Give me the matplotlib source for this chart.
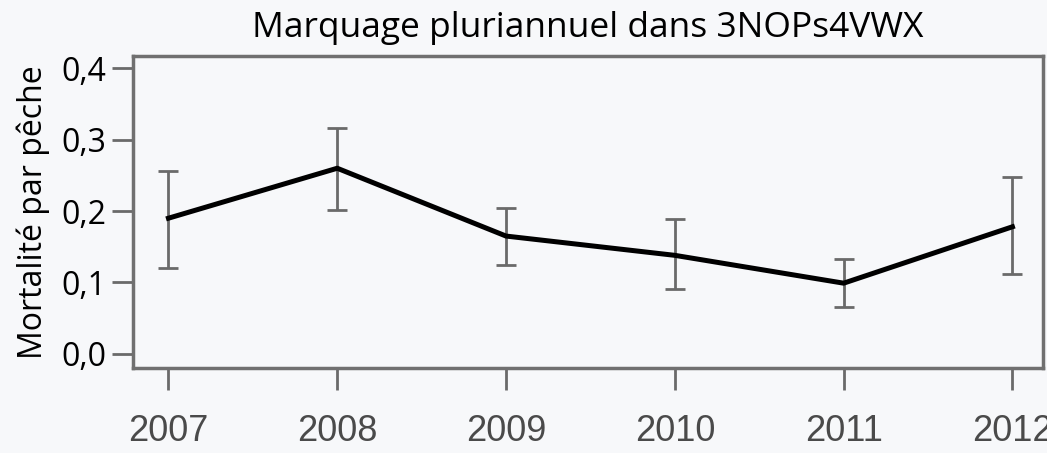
import matplotlib.pyplot as plt

# donnees
annees = [2007, 2008, 2009, 2010, 2011, 2012]
mortalite = [0.190, 0.260, 0.165, 0.138, 0.099, 0.178]
borne_haute = [0.256, 0.316, 0.204, 0.189, 0.133, 0.248]
borne_basse = [0.120, 0.201, 0.124, 0.091, 0.066, 0.112]
yticks = [0.0, 0.1, 0.2, 0.3, 0.4]
ytick_labels = ['0,0', '0,1', '0,2', '0,3', '0,4']

fond = '#f7f8fa'
fig = plt.figure(figsize=(10.47, 4.53), dpi=100, facecolor=fond)
ax = fig.add_axes([0.127, 0.188, 0.869, 0.688], facecolor=fond)

err_bas = [m - b for m, b in zip(mortalite, borne_basse)]
err_haut = [h - m for m, h in zip(mortalite, borne_haute)]
ax.errorbar(annees, mortalite, yerr=[err_bas, err_haut], fmt='none',
            ecolor='#6a6a6a', elinewidth=2, capsize=7.5, capthick=2, zorder=2)
ax.plot(annees, mortalite, color='black', linewidth=3.6, zorder=3)

ax.set_xlim(2006.79, 2012.18)
ax.set_ylim(-0.0196, 0.417)

ax.set_yticks(yticks)
ax.set_yticklabels(ytick_labels, fontfamily='Open Sans', fontsize=23)
ax.set_xticks(annees)
ax.set_xticklabels([str(a) for a in annees], fontfamily='Liberation Sans',
                   fontsize=26, color='#4a4a4a')

ax.tick_params(axis='y', length=15, width=2, color='#6a6a6a', pad=4)
ax.tick_params(axis='x', length=16, width=2, color='#6a6a6a', pad=17)

for s in ax.spines.values():
    s.set_color('#707070')
    s.set_linewidth(2.5)

ax.set_ylabel('Mortalité par pêche', fontfamily='Open Sans', fontsize=23, labelpad=8)
ax.set_title('Marquage pluriannuel dans 3NOPs4VWX', fontfamily='Open Sans',
             fontsize=25.5, pad=14)

fig.savefig('out.png', dpi=100, facecolor=fond)
